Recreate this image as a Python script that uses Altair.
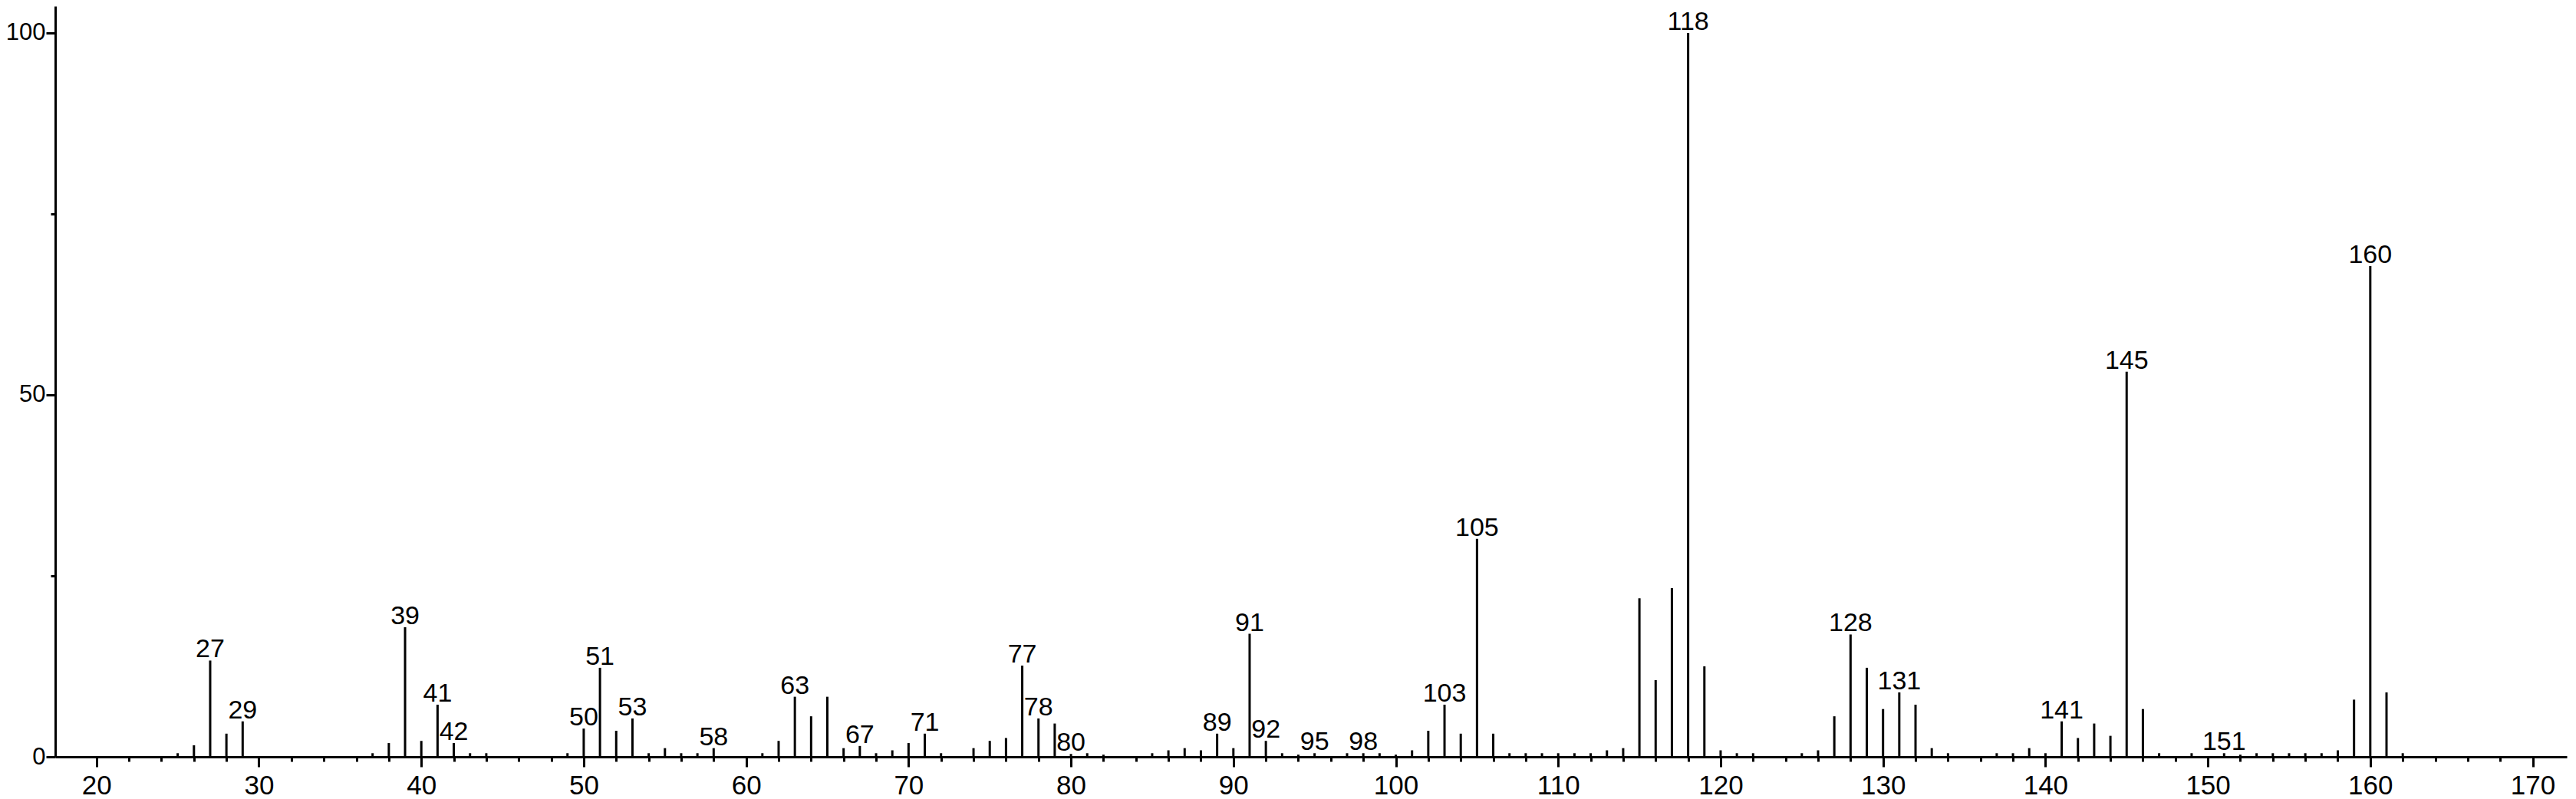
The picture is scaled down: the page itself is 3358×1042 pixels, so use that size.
import altair as alt
import pandas as pd

mz = [25, 26, 27, 28, 29, 37, 38, 39, 40, 41, 42, 43, 44, 49, 50, 51, 52, 53, 54, 55,
      56, 57, 58, 61, 62, 63, 64, 65, 66, 67, 68, 69, 70, 71, 72, 74, 75, 76, 77, 78,
      79, 80, 81, 82, 85, 86, 87, 88, 89, 90, 91, 92, 93, 94, 95, 97, 98, 99, 100, 101,
      102, 103, 104, 105, 106, 107, 108, 109, 110, 111, 112, 113, 114, 115, 116, 117, 118, 119, 120, 121,
      122, 125, 126, 127, 128, 129, 130, 131, 132, 133, 134, 137, 138, 139, 140, 141, 142, 143, 144, 145,
      146, 147, 149, 151, 152, 153, 154, 155, 156, 157, 158, 159, 160, 161, 162]

intensity = [0.5, 1.6, 13.3, 3.2, 4.9, 0.5, 1.9, 17.9, 2.2, 7.2, 1.9, 0.5, 0.5, 0.5, 3.9, 12.3, 3.6, 5.3, 0.5, 1.2,
             0.5, 0.5, 1.2, 0.5, 2.2, 8.3, 5.6, 8.3, 1.2, 1.5, 0.5, 0.9, 1.9, 3.2, 0.5, 1.2, 2.2, 2.6, 12.6, 5.3,
             4.6, 0.4, 0.5, 0.3, 0.5, 0.9, 1.2, 0.9, 3.2, 1.2, 17.0, 2.2, 0.5, 0.3, 0.5, 0.5, 0.5, 0.5, 0.3, 0.9,
             3.6, 7.2, 3.2, 30.1, 3.2, 0.5, 0.5, 0.5, 0.5, 0.5, 0.5, 0.9, 1.2, 21.9, 10.6, 23.3, 100.0, 12.5, 0.9, 0.5,
             0.5, 0.5, 0.9, 5.6, 16.9, 12.3, 6.6, 8.9, 7.2, 1.2, 0.5, 0.5, 0.5, 1.2, 0.5, 4.9, 2.6, 4.6, 2.9, 53.2,
             6.6, 0.5, 0.5, 0.5, 0.3, 0.5, 0.5, 0.5, 0.5, 0.5, 0.9, 7.9, 67.8, 8.9, 0.5]

labeled_mz = [27, 29, 39, 41, 42, 50, 51, 53, 58, 63, 67, 71, 77, 78, 80, 89, 91, 92, 95, 98,
              103, 105, 118, 128, 131, 141, 145, 151, 160]

x_ticks = list(range(20, 171, 2))
y_ticks = [0, 25, 50, 75, 100]

df = pd.DataFrame({"mz": mz, "intensity": intensity})
df["label"] = [str(m) if m in labeled_mz else "" for m in mz]

FONT = "Liberation Sans"

x_enc = alt.X(
    "mz:Q",
    title=None,
    scale=alt.Scale(domain=[17.46, 172.1], nice=False, zero=False),
    axis=alt.Axis(
        values=x_ticks,
        labelExpr="datum.value % 10 === 0 ? datum.label : ''",
        tickSize={"condition": {"test": "datum.value % 10 === 0", "value": 13}, "value": 6},
        labelPadding=7,
        labelFlush=False,
        labelOverlap=False,
        grid=False,
        domainColor="black",
        domainWidth=3,
        tickColor="black",
        tickWidth=3,
        labelColor="black",
        labelFont=FONT,
        labelFontSize=35,
    ),
)

y_enc = alt.Y(
    "intensity:Q",
    title=None,
    scale=alt.Scale(domain=[0, 103.7], nice=False),
    axis=alt.Axis(
        values=y_ticks,
        labelExpr="datum.value % 50 === 0 ? datum.label : ''",
        tickSize={"condition": {"test": "datum.value % 50 === 0", "value": 12}, "value": 6},
        labelPadding=1,
        labelOverlap=False,
        labelFlush=False,
        grid=False,
        domainColor="black",
        domainWidth=3,
        tickColor="black",
        tickWidth=3,
        labelColor="black",
        labelFont=FONT,
        labelFontSize=31,
    ),
)

base = alt.Chart(df)

rules = base.mark_rule(color="black", strokeWidth=3).encode(
    x=x_enc,
    y=y_enc,
    y2=alt.datum(0),
)

texts = base.transform_filter("datum.label != ''").mark_text(
    baseline="alphabetic", align="center", dy=-4, fontSize=34, font=FONT, color="black"
).encode(
    x=alt.X("mz:Q"),
    y=alt.Y("intensity:Q"),
    text="label:N",
)

chart = alt.layer(rules, texts).properties(
    width=3274,
    height=979,
    padding={"left": 64, "top": 0, "right": 2, "bottom": 55},
    autosize=alt.AutoSizeParams(type="none"),
).configure_view(stroke=None)

chart.save("out.html", embed_options={"renderer": "svg", "actions": False})
